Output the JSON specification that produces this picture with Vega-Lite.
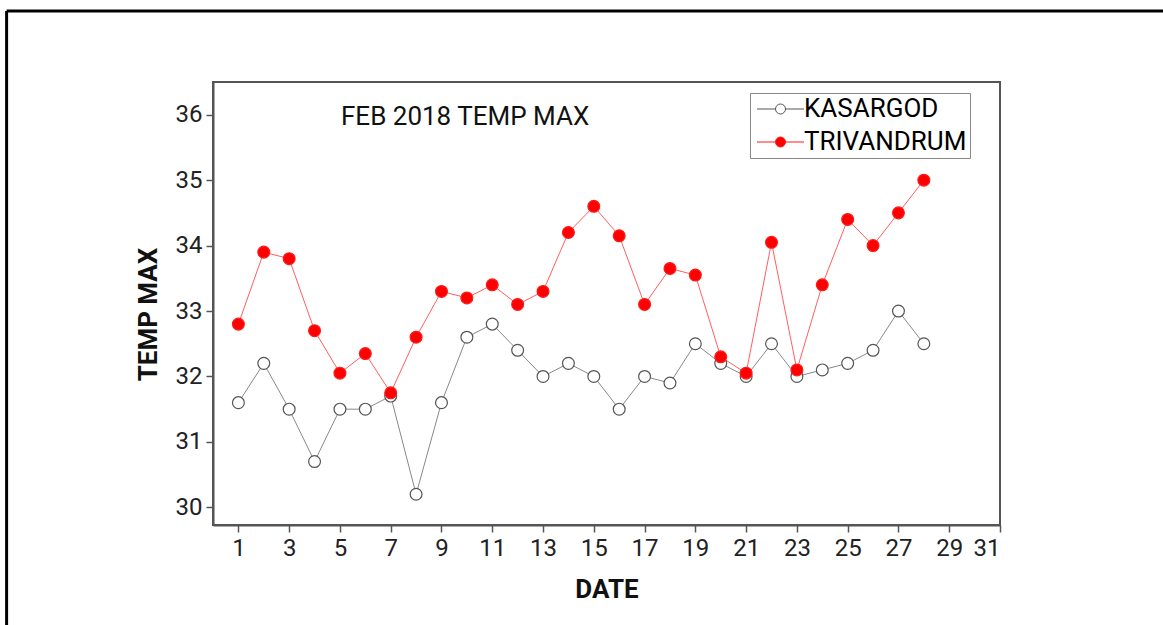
{
  "$schema": "https://vega.github.io/schema/vega-lite/v6.json",
  "width": 787,
  "height": 443,
  "autosize": {"type": "none"},
  "padding": {"left": 213, "top": 82, "right": 163, "bottom": 100},
  "background": "white",
  "config": {
    "view": {"stroke": "#555", "strokeWidth": 2},
    "font": "Roboto",
    "axis": {
      "grid": false,
      "domainColor": "#555",
      "domainWidth": 2,
      "tickColor": "#555",
      "tickWidth": 1.5,
      "labelFont": "Roboto",
      "labelFontSize": 24,
      "labelColor": "#222",
      "labelPadding": 4,
      "titleFont": "Roboto",
      "titleFontSize": 26,
      "titleFontWeight": "bold",
      "titleColor": "#111"
    },
    "legend": {
      "labelFont": "Roboto",
      "labelFontSize": 26,
      "labelFontWeight": "normal",
      "labelColor": "#000",
      "labelLimit": 300
    }
  },
  "datasets": {
    "temps": [
      {"date": 1, "city": "KASARGOD", "temp": 31.6},
      {"date": 2, "city": "KASARGOD", "temp": 32.2},
      {"date": 3, "city": "KASARGOD", "temp": 31.5},
      {"date": 4, "city": "KASARGOD", "temp": 30.7},
      {"date": 5, "city": "KASARGOD", "temp": 31.5},
      {"date": 6, "city": "KASARGOD", "temp": 31.5},
      {"date": 7, "city": "KASARGOD", "temp": 31.7},
      {"date": 8, "city": "KASARGOD", "temp": 30.2},
      {"date": 9, "city": "KASARGOD", "temp": 31.6},
      {"date": 10, "city": "KASARGOD", "temp": 32.6},
      {"date": 11, "city": "KASARGOD", "temp": 32.8},
      {"date": 12, "city": "KASARGOD", "temp": 32.4},
      {"date": 13, "city": "KASARGOD", "temp": 32.0},
      {"date": 14, "city": "KASARGOD", "temp": 32.2},
      {"date": 15, "city": "KASARGOD", "temp": 32.0},
      {"date": 16, "city": "KASARGOD", "temp": 31.5},
      {"date": 17, "city": "KASARGOD", "temp": 32.0},
      {"date": 18, "city": "KASARGOD", "temp": 31.9},
      {"date": 19, "city": "KASARGOD", "temp": 32.5},
      {"date": 20, "city": "KASARGOD", "temp": 32.2},
      {"date": 21, "city": "KASARGOD", "temp": 32.0},
      {"date": 22, "city": "KASARGOD", "temp": 32.5},
      {"date": 23, "city": "KASARGOD", "temp": 32.0},
      {"date": 24, "city": "KASARGOD", "temp": 32.1},
      {"date": 25, "city": "KASARGOD", "temp": 32.2},
      {"date": 26, "city": "KASARGOD", "temp": 32.4},
      {"date": 27, "city": "KASARGOD", "temp": 33.0},
      {"date": 28, "city": "KASARGOD", "temp": 32.5},
      {"date": 1, "city": "TRIVANDRUM", "temp": 32.8},
      {"date": 2, "city": "TRIVANDRUM", "temp": 33.9},
      {"date": 3, "city": "TRIVANDRUM", "temp": 33.8},
      {"date": 4, "city": "TRIVANDRUM", "temp": 32.7},
      {"date": 5, "city": "TRIVANDRUM", "temp": 32.05},
      {"date": 6, "city": "TRIVANDRUM", "temp": 32.35},
      {"date": 7, "city": "TRIVANDRUM", "temp": 31.75},
      {"date": 8, "city": "TRIVANDRUM", "temp": 32.6},
      {"date": 9, "city": "TRIVANDRUM", "temp": 33.3},
      {"date": 10, "city": "TRIVANDRUM", "temp": 33.2},
      {"date": 11, "city": "TRIVANDRUM", "temp": 33.4},
      {"date": 12, "city": "TRIVANDRUM", "temp": 33.1},
      {"date": 13, "city": "TRIVANDRUM", "temp": 33.3},
      {"date": 14, "city": "TRIVANDRUM", "temp": 34.2},
      {"date": 15, "city": "TRIVANDRUM", "temp": 34.6},
      {"date": 16, "city": "TRIVANDRUM", "temp": 34.15},
      {"date": 17, "city": "TRIVANDRUM", "temp": 33.1},
      {"date": 18, "city": "TRIVANDRUM", "temp": 33.65},
      {"date": 19, "city": "TRIVANDRUM", "temp": 33.55},
      {"date": 20, "city": "TRIVANDRUM", "temp": 32.3},
      {"date": 21, "city": "TRIVANDRUM", "temp": 32.05},
      {"date": 22, "city": "TRIVANDRUM", "temp": 34.05},
      {"date": 23, "city": "TRIVANDRUM", "temp": 32.1},
      {"date": 24, "city": "TRIVANDRUM", "temp": 33.4},
      {"date": 25, "city": "TRIVANDRUM", "temp": 34.4},
      {"date": 26, "city": "TRIVANDRUM", "temp": 34.0},
      {"date": 27, "city": "TRIVANDRUM", "temp": 34.5},
      {"date": 28, "city": "TRIVANDRUM", "temp": 35.0}
    ],
    "caption": [{"label": "FEB 2018 TEMP MAX", "x": 9.93, "y": 35.965}],
    "frame": [{"x": -8.13, "x2": 37.5, "y": 37.585, "ybottom": 28.1}]
  },
  "layer": [
    {
      "data": {"name": "temps"},
      "mark": {"type": "line", "strokeWidth": 1, "strokeOpacity": 0.7},
      "encoding": {
        "x": {
          "field": "date",
          "type": "quantitative",
          "title": "DATE",
          "scale": {"domain": [0, 31], "nice": false, "zero": false},
          "axis": {
            "values": [1,2,3,4,5,6,7,8,9,10,11,12,13,14,15,16,17,18,19,20,21,22,23,24,25,26,27,28,29,30,31],
            "format": "d",
            "labelExpr": "datum.value % 2 === 1 ? datum.label : ''",
            "tickSize": {"condition": {"test": "datum.value % 2 === 1", "value": 7}, "value": 4},
            "titlePadding": 16
          }
        },
        "y": {
          "field": "temp",
          "type": "quantitative",
          "title": "TEMP MAX",
          "scale": {"domain": [29.73, 36.5], "nice": false, "zero": false},
          "axis": {
            "values": [30, 30.5, 31, 31.5, 32, 32.5, 33, 33.5, 34, 34.5, 35, 35.5, 36],
            "labelExpr": "datum.value % 1 === 0 ? format(datum.value, 'd') : ''",
            "tickSize": {"condition": {"test": "datum.value % 1 === 0", "value": 7}, "value": 4},
            "titlePadding": 14,
            "titleY": 232
          }
        },
        "stroke": {
          "field": "city",
          "type": "nominal",
          "scale": {"domain": ["KASARGOD", "TRIVANDRUM"], "range": ["#555555", "#ff1a1a"]},
          "legend": {
            "title": null,
            "orient": "none",
            "legendX": 537,
            "legendY": 11,
            "symbolType": "M-0.9,0L0.95,0M1.95,0L3.8,0M1.95,0A0.5,0.5 0 1,1 0.95,0A0.5,0.5 0 1,1 1.95,0Z",
            "symbolSize": 400,
            "symbolStrokeWidth": 1,
            "labelOffset": 25,
            "rowPadding": 7,
            "padding": 3,
            "strokeColor": "#888",
            "fillColor": "white"
          }
        }
      }
    },
    {
      "data": {"name": "temps"},
      "mark": {"type": "point", "filled": false, "size": 140, "strokeWidth": 1.2, "opacity": 1},
      "encoding": {
        "x": {"field": "date", "type": "quantitative"},
        "y": {"field": "temp", "type": "quantitative"},
        "stroke": {
          "field": "city",
          "type": "nominal",
          "scale": {"domain": ["KASARGOD", "TRIVANDRUM"], "range": ["#555555", "#ff1a1a"]}
        },
        "fill": {
          "field": "city",
          "type": "nominal",
          "scale": {"domain": ["KASARGOD", "TRIVANDRUM"], "range": ["#ffffff", "#ff0000"]},
          "legend": {
            "title": null,
            "orient": "none",
            "legendX": 537,
            "legendY": 11,
            "symbolType": "M-0.9,0L0.95,0M1.95,0L3.8,0M1.95,0A0.5,0.5 0 1,1 0.95,0A0.5,0.5 0 1,1 1.95,0Z",
            "symbolSize": 400,
            "symbolStrokeWidth": 1,
            "labelOffset": 25,
            "rowPadding": 7,
            "padding": 3,
            "strokeColor": "#888",
            "fillColor": "white"
          }
        }
      }
    },
    {
      "data": {"name": "caption"},
      "mark": {"type": "text", "font": "Roboto", "fontSize": 26, "color": "#111", "align": "center", "baseline": "middle"},
      "encoding": {
        "x": {"field": "x", "type": "quantitative"},
        "y": {"field": "y", "type": "quantitative"},
        "text": {"field": "label"}
      }
    },
    {
      "data": {"name": "frame"},
      "mark": {"type": "rule", "color": "#000", "strokeWidth": 3, "clip": false},
      "encoding": {
        "x": {"field": "x", "type": "quantitative"},
        "y": {"field": "y", "type": "quantitative"},
        "y2": {"field": "ybottom"}
      }
    },
    {
      "data": {"name": "frame"},
      "mark": {"type": "rule", "color": "#000", "strokeWidth": 3, "clip": false},
      "encoding": {
        "x": {"field": "x", "type": "quantitative"},
        "x2": {"field": "x2"},
        "y": {"field": "y", "type": "quantitative"}
      }
    }
  ]
}
